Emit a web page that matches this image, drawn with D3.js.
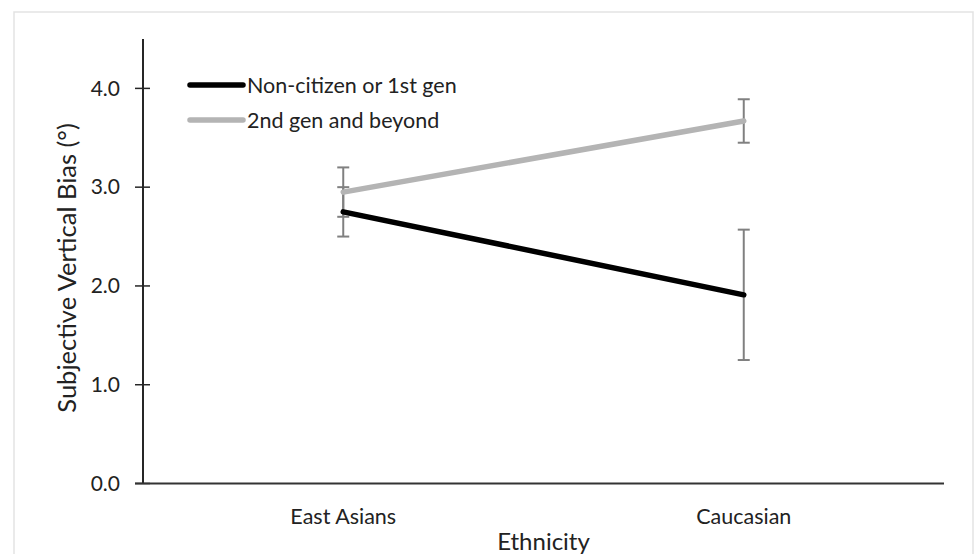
<!DOCTYPE html>
<html><head><meta charset="utf-8">
<script src="https://cdn.jsdelivr.net/npm/d3@7"></script>
<style>
html,body{margin:0;padding:0;background:#fff;}
svg{display:block;font-family:Lato,"Open Sans",sans-serif;}
</style></head>
<body>
<svg id="chart" width="980" height="554"></svg>
<script>
const categories = ["East Asians", "Caucasian"];
const seriesNames = ["Non-citizen or 1st gen", "2nd gen and beyond"];
const seriesColors = ["#000000", "#b4b4b4"];
const nonCitizen = [2.75, 1.91];
const nonCitizenErr = [0.25, 0.66];
const secondGen = [2.95, 3.67];
const secondGenErr = [0.25, 0.22];
const yTicks = [0, 1, 2, 3, 4];
const yTitle = "Subjective Vertical Bias (°)";
const xTitle = "Ethnicity";

(function () {
const svg = d3.select("#chart");
svg.append("rect").attr("x", 14).attr("y", 12).attr("width", 959).attr("height", 560)
  .attr("fill", "#fff").attr("stroke", "#e3e3e3").attr("stroke-width", 1.5);

const mLeft = 143, mRight = 944, mTop = 39, mBottom = 483.5;
const x = d3.scaleBand().domain(categories).range([mLeft, mRight]);
const y = d3.scaleLinear().domain([0, 4.5]).range([mBottom, mTop]);

// y axis
const yAxis = svg.append("g").attr("transform", `translate(${mLeft},0)`)
  .call(d3.axisLeft(y).tickValues(yTicks).tickFormat(d3.format(".1f")).tickSize(0).tickPadding(23));
yAxis.select(".domain").remove();
yAxis.selectAll("text").attr("font-size", 21).attr("fill", "#222").attr("font-family", "Lato, sans-serif");
svg.append("line").attr("x1", mLeft).attr("x2", mLeft).attr("y1", mTop).attr("y2", mBottom)
  .attr("stroke", "#262626").attr("stroke-width", 2);
svg.selectAll(".ytick").data(yTicks).enter().append("line")
  .attr("x1", mLeft - 8).attr("x2", mLeft + 7)
  .attr("y1", d => y(d)).attr("y2", d => y(d))
  .attr("stroke", "#262626").attr("stroke-width", 1.5);

// x axis
const xAxis = svg.append("g").attr("transform", `translate(0,${mBottom})`)
  .call(d3.axisBottom(x).tickSize(0));
xAxis.select(".domain").remove();
xAxis.selectAll("text").attr("dy", null).attr("y", 40).attr("font-size", 21.5)
  .attr("fill", "#222").attr("font-family", "Lato, sans-serif");
svg.append("line").attr("x1", mLeft - 8).attr("x2", mRight).attr("y1", mBottom).attr("y2", mBottom)
  .attr("stroke", "#333").attr("stroke-width", 2.2);

// titles
svg.append("text").attr("x", (mLeft + mRight) / 2).attr("y", 550).attr("text-anchor", "middle")
  .attr("font-size", 24).attr("fill", "#222").text(xTitle);
svg.append("text").attr("transform", `translate(76,268) rotate(-90)`)
  .attr("text-anchor", "middle").attr("font-size", 25.5).attr("fill", "#222").text(yTitle);

const cx = d => x(d) + x.bandwidth() / 2;
const series = [
  {name: seriesNames[0], vals: nonCitizen, err: nonCitizenErr, color: seriesColors[0]},
  {name: seriesNames[1], vals: secondGen, err: secondGenErr, color: seriesColors[1]}
];

// error bars
series.forEach(s => {
  categories.forEach((c, i) => {
    const g = svg.append("g").attr("stroke", "#808080").attr("stroke-width", 2);
    const lo = y(s.vals[i] - s.err[i]), hi = y(s.vals[i] + s.err[i]);
    g.append("line").attr("x1", cx(c)).attr("x2", cx(c)).attr("y1", lo).attr("y2", hi);
    g.append("line").attr("x1", cx(c) - 6).attr("x2", cx(c) + 6).attr("y1", lo).attr("y2", lo);
    g.append("line").attr("x1", cx(c) - 6).attr("x2", cx(c) + 6).attr("y1", hi).attr("y2", hi);
  });
});

// lines
const line = d3.line().x((d, i) => cx(categories[i])).y(d => y(d));
series.slice().reverse().forEach(s => {
  svg.append("path").datum(s.vals).attr("d", line).attr("fill", "none")
    .attr("stroke", s.color).attr("stroke-width", 5.5).attr("stroke-linecap", "round");
});

// legend
series.forEach((s, i) => {
  const ly = 85 + i * 35;
  svg.append("line").attr("x1", 190).attr("x2", 243).attr("y1", ly).attr("y2", ly)
    .attr("stroke", s.color).attr("stroke-width", 5.5).attr("stroke-linecap", "round");
  svg.append("text").attr("x", 247).attr("y", ly + 8).attr("font-size", 21.5).attr("fill", "#222").text(s.name);
});
})();
</script>
</body></html>
